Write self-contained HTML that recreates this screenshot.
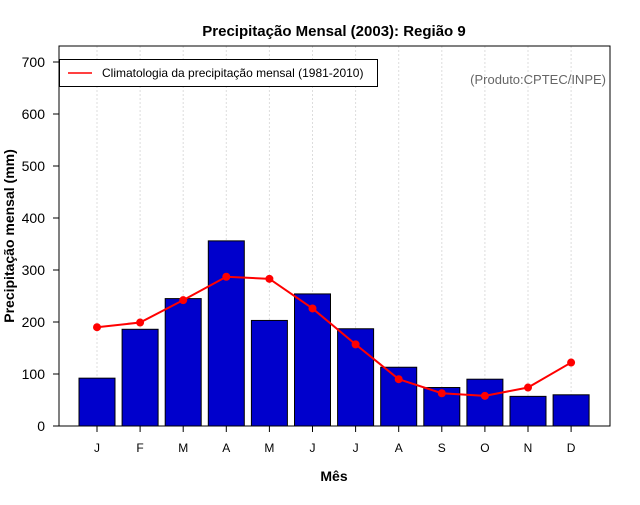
<!DOCTYPE html>
<html><head><meta charset="utf-8"><style>
body{margin:0;background:#fff;font-family:"Liberation Sans",sans-serif}
</style></head><body>
<svg id="c" width="640" height="500" xmlns="http://www.w3.org/2000/svg" font-family="Liberation Sans, sans-serif"></svg>
<script>
const months=["J","F","M","A","M","J","J","A","S","O","N","D"];
const observed=[92,186,245,356,203,254,187,113,74,90,57,60];
const climatology=[190,199,242,287,283,226,157,90,63,58,74,122];
const yTicks=[0,100,200,300,400,500,600,700];
const NS="http://www.w3.org/2000/svg";
const svg=document.getElementById('c');
const L=59,R=610,T=46,B=426;
const y=v=>B-v*0.52;
const x=i=>97+43.1*i;
function el(t,a,p){const e=document.createElementNS(NS,t);for(const k in a)e.setAttribute(k,a[k]);(p||svg).appendChild(e);return e;}
// grid
months.forEach((m,i)=>{const g=el('line',{x1:x(i),x2:x(i),y1:T,y2:B,stroke:'#ddd','stroke-dasharray':'2,2'});

});
// bars
observed.forEach((v,i)=>{const b=el('rect',{x:x(i)-18,y:y(v),width:36,height:B-y(v),fill:'#0000cc',stroke:'#000','stroke-width':1});

});
// line
const pl=el('polyline',{points:climatology.map((v,i)=>x(i)+','+y(v)).join(' '),fill:'none',stroke:'#ff0000','stroke-width':2});


climatology.forEach((v,i)=>{const c=el('circle',{cx:x(i),cy:y(v),r:4,fill:'#ff0000'});

});
// frame
const f=el('rect',{x:L,y:T,width:R-L,height:B-T,fill:'none',stroke:'#000'});


// y ticks
yTicks.forEach(v=>{el('line',{x1:L-6,x2:L,y1:y(v),y2:y(v),stroke:'#000'});
const t=el('text',{x:45,y:y(v)+5,'text-anchor':'end','font-size':14});t.textContent=v;

});
// x ticks
months.forEach((m,i)=>{el('line',{x1:x(i),x2:x(i),y1:B,y2:B+6,stroke:'#000'});
const t=el('text',{x:x(i),y:452,'text-anchor':'middle','font-size':12});t.textContent=m;

});
</script>
<svg width="640" height="500" style="position:absolute;left:0;top:0" font-family="Liberation Sans, sans-serif">
<text x="334" y="36" text-anchor="middle" font-size="15" font-weight="bold">Precipitação Mensal (2003): Região 9</text>
<text x="334" y="481" text-anchor="middle" font-size="14" font-weight="bold">Mês</text>
<text transform="translate(14,236) rotate(-90)" text-anchor="middle" font-size="14" font-weight="bold">Precipitação mensal (mm)</text>
<g>
<rect x="59.5" y="59.5" width="318" height="27" fill="#fff" stroke="#000"/>
<line x1="68" x2="92" y1="73" y2="73" stroke="#ff0000" stroke-width="1.5"/>
<text x="102" y="77" font-size="12">Climatologia da precipitação mensal (1981-2010)</text>
</g>
<text x="606" y="84" text-anchor="end" font-size="13" fill="#666">(Produto:CPTEC/INPE)</text>
</svg>
</body></html>
